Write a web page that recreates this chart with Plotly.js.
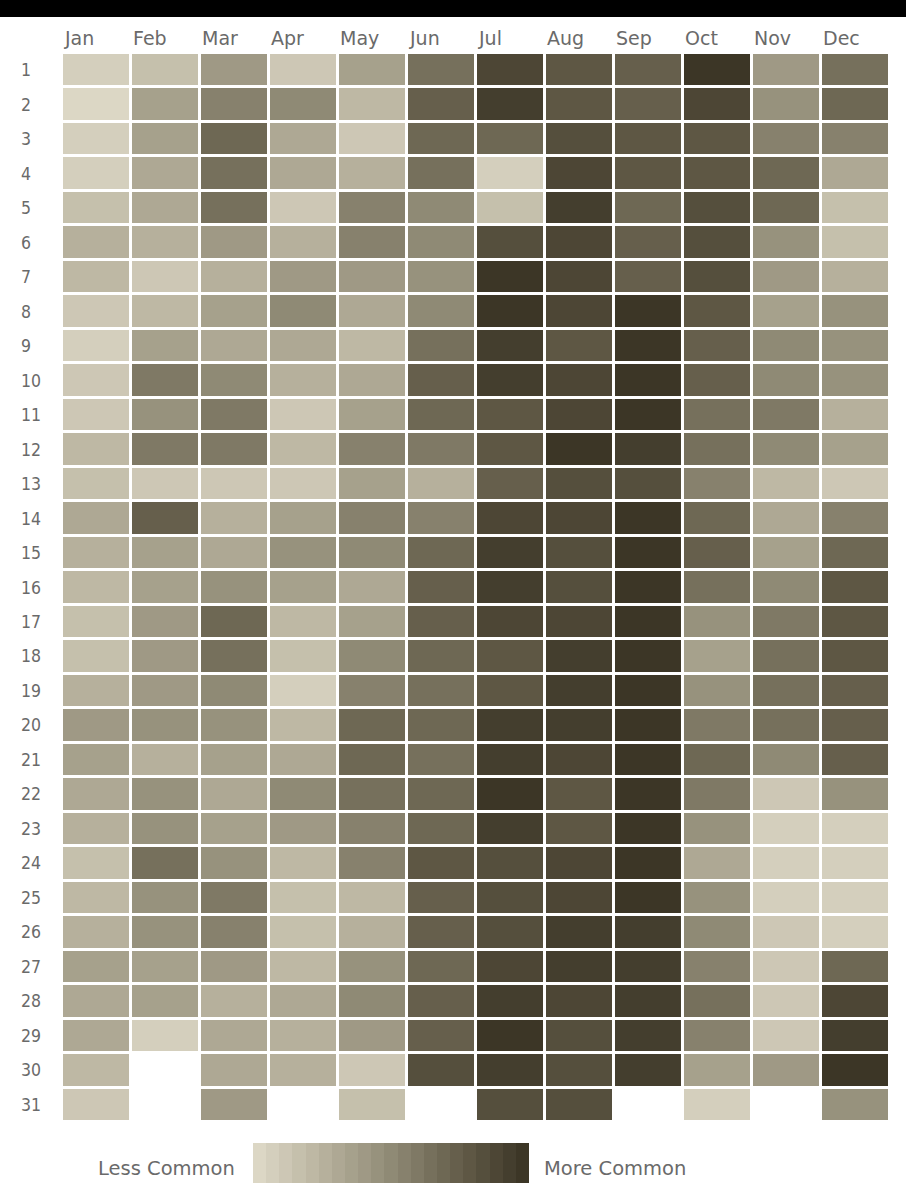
<!DOCTYPE html>
<html>
<head>
<meta charset="utf-8">
<script src="https://cdn.plot.ly/plotly-3.0.1.min.js"></script>
<style>html,body{margin:0;padding:0;background:#fff;}#chart{width:906px;height:1193px;}</style>
</head>
<body>
<div id="chart"></div>
<script>
const months = ["Jan","Feb","Mar","Apr","May","Jun","Jul","Aug","Sep","Oct","Nov","Dec"];
const days = [1,2,3,4,5,6,7,8,9,10,11,12,13,14,15,16,17,18,19,20,21,22,23,24,25,26,27,28,29,30,31];
// relative commonness of birthdays (0 = less common, 10 = more common), one array per month
const jan = [0.5,0.3,0.8,0.8,1.5,2.6,2.3,1.2,0.8,1.2,1.2,2.2,1.9,3.3,2.4,2.1,1.6,1.6,2.4,4,3.4,3,2.4,1.5,2.2,2.4,3.4,3.3,3.1,2,1.1];
const feb = [1.5,3.7,3.8,3.3,3.1,2.6,1.4,2.2,3.8,5.8,4.4,6.1,1.4,7.5,3.4,3.8,4.1,4,4,4.4,2.6,4.4,4.6,6.2,4.6,4.6,3.8,3.6,0.6,null,null];
const mar = [4,5.3,6.8,6.6,6.3,4.1,2.8,3.4,3.3,4.8,6.1,6.1,1.4,2.4,3.2,4.7,6.8,6.6,5.1,4.6,3.6,3.2,3.6,4.6,6.1,5.3,3.9,2.4,3,3.3,4];
const apr = [1,5,3,3.1,1.4,2.8,4.1,5,3,2.4,1.4,2.2,1,3.6,4.4,3.8,2,1.6,0.9,2.1,3.3,5,4.1,2,1.7,1.7,2,3.2,2.6,2.6,null];
const may = [3.8,2,1.3,2.6,5.7,5.3,4.1,3.1,2,3.2,3.6,5.5,3.6,5.6,5.2,3.1,3.6,5.2,5.5,6.9,6.7,6.6,5.5,5.5,2,2.6,4.5,4.9,4.1,1.4,1.6];
const jun = [6.5,7.3,7.1,6.6,5.2,4.9,4.5,5,6.4,7.2,6.8,5.9,2.5,5.6,6.7,7.3,7.4,6.8,6.6,7,6.2,7.1,7.1,7.7,7.5,7.4,7,7.4,7.3,8.3,null];
const jul = [9,9.2,6.9,0.6,1.9,8.1,9.9,10,9.1,9.1,7.9,7.9,7.6,9,9.5,9.3,8.8,7.9,7.9,9.1,9.1,10,9.4,8.1,8.1,8.1,8.6,9.4,9.6,9.2,8.4];
const aug = [8,8,8.4,9,9.3,9,8.6,8.6,8,9,8.6,9.8,8.3,8.6,8.3,8.4,8.6,9.3,9.3,9.2,8.6,8,8,8.6,8.6,9.3,9.3,8.9,8.3,8.4,8.3];
const sep = [7.5,7.2,7.9,7.9,7.1,7.2,7.5,9.6,10,9.9,9.6,9.2,8.3,9.7,9.8,10,10,9.8,9.9,9.9,9.8,10,10,10,9.8,9.4,9.4,9.5,9.5,9.4,null];
const oct = [9.7,8.8,7.8,7.9,8.2,8.2,8.3,7.9,7.3,7.2,6.2,6.4,5.4,7.1,7.5,6.4,4.4,3.8,4.3,6.1,6.8,6,4.7,3.3,4.5,5.1,5.4,6.5,5.3,3.6,0.9];
const nov = [4,4.5,5.5,6.9,6.8,4.5,4,3.8,4.8,5,6.1,5,2.2,3.3,3.6,5,6.1,6.3,6.3,6.2,5,1,0.9,0.8,0.9,1,1.2,1.2,1.2,4,null];
const dec = [6.5,7,5.5,3,1.9,1.8,2.8,4.4,4.5,4.7,2.4,3.4,1.2,5.3,7.1,7.8,7.9,7.9,7.2,7.5,7.5,4.3,0.5,0.6,0.6,0.9,7.1,8.9,9.1,9.6,4.3];
const legendLow = "Less Common";
const legendHigh = "More Common";

const cols = [jan,feb,mar,apr,may,jun,jul,aug,sep,oct,nov,dec];
const z = days.map((d,i) => cols.map(c => c[i]));

const W = 906, H = 1193;
const font = "'DejaVu Sans','Open Sans',sans-serif";
const numFont = "'DejaVu Sans Condensed','DejaVu Sans',sans-serif";
const txtColor = "#6a6a6a";

// base ramp, quantised into discrete steps like the reference legend
const ramp = [[0,[220,215,197]],[0.25,[182,176,156]],[0.5,[143,138,117]],[0.75,[102,95,76]],[1,[60,54,38]]];
function rampColor(t){
  for (let i=1;i<ramp.length;i++){
    if (t<=ramp[i][0]){
      const a=ramp[i-1], b=ramp[i], f=(t-a[0])/(b[0]-a[0]);
      const c=a[1].map((v,k)=>Math.round(v+(b[1][k]-v)*f));
      return "rgb("+c.join(",")+")";
    }
  }
  return "rgb("+ramp[ramp.length-1][1].join(",")+")";
}
const STEPS = 21;
const colorscale = [];
for (let k=0;k<STEPS;k++){
  const c = rampColor(k/(STEPS-1));
  colorscale.push([k/STEPS, c]);
  colorscale.push([(k+1)/STEPS, c]);
}

const trace = {
  type: "heatmap",
  x: months,
  y: days,
  z: z,
  zmin: 0, zmax: 10,
  colorscale: colorscale,
  xgap: 3, ygap: 3,
  hoverongaps: false,
  colorbar: {
    orientation: "h",
    x: (253+529)/2/W, xanchor: "center",
    y: 1 - 1143/H, yanchor: "top", yref: "paper",
    lenmode: "pixels", len: 276,
    thicknessmode: "pixels", thickness: 40,
    xpad: 0, ypad: 0,
    outlinewidth: 0,
    showticklabels: false, ticks: ""
  }
};

const annotations = [];
months.forEach((m,i) => annotations.push({
  text: m, xref: "x", x: i - 0.5, xanchor: "left",
  yref: "paper", y: 1 - 38/H, yanchor: "middle",
  showarrow: false, font: {family: font, size: 19, color: txtColor}
}));
days.forEach(d => annotations.push({
  text: String(d), xref: "paper", x: 19/W, xanchor: "left",
  yref: "y", y: d, yanchor: "middle",
  showarrow: false, font: {family: numFont, size: 17.5, color: txtColor}
}));
annotations.push({text: legendLow, xref: "paper", x: 237/W, xanchor: "right",
  yref: "paper", y: 1 - 1168/H, yanchor: "middle", showarrow: false,
  font: {family: font, size: 19.5, color: txtColor}});
annotations.push({text: legendHigh, xref: "paper", x: 542/W, xanchor: "left",
  yref: "paper", y: 1 - 1168/H, yanchor: "middle", showarrow: false,
  font: {family: font, size: 19.5, color: txtColor}});

const layout = {
  width: W, height: H,
  margin: {l: 0, r: 0, t: 0, b: 0},
  paper_bgcolor: "#ffffff", plot_bgcolor: "#ffffff",
  xaxis: {domain: [62/W, 890/W], range: [-0.5, 11.5], showticklabels: false, ticks: "",
          showline: false, showgrid: false, zeroline: false, fixedrange: true},
  yaxis: {domain: [1 - 1122/H, 1 - 53/H], range: [31.5, 0.5], showticklabels: false, ticks: "",
          showline: false, showgrid: false, zeroline: false, fixedrange: true},
  shapes: [{type: "rect", xref: "paper", yref: "paper", x0: 0, x1: 1,
            y0: 1 - 17/H, y1: 1, fillcolor: "#000000", line: {width: 0}}],
  annotations: annotations,
  showlegend: false
};

Plotly.newPlot("chart", [trace], layout, {displayModeBar: false, staticPlot: true});
</script>
</body>
</html>
